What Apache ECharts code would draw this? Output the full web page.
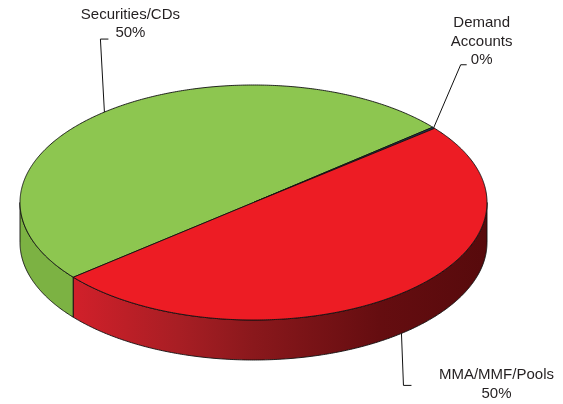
<!DOCTYPE html>
<html><head><meta charset="utf-8">
<script src="https://cdn.jsdelivr.net/npm/echarts/dist/echarts.min.js"></script>
<style>html,body{margin:0;padding:0;background:#fff}#c{width:563px;height:404px}</style>
</head><body><div id="c"></div>
<script>
// ---- data ----
const categories = ['Securities/CDs', 'Demand\nAccounts', 'MMA/MMF/Pools'];
const values = [49.9, 0.2, 49.9];

// ---- styles / geometry (not data) ----
const topColors = ['#8DC650', '#1F3A5F', '#ED1C24'];
const sideColors = [
  '#7CB243',
  '#162B47',
  null // gradient for red side
];
const CX = 253.5, CY = 202.5, RX = 233.5, RY = 117.5, DEPTH = 40, START = 140.5;
const redGradient = {
  type: 'linear', x: CX - RX, y: 0, x2: CX + RX, y2: 0, global: true,
  colorStops: [
    {offset: 0, color: '#DC2029'},
    {offset: 0.12, color: '#D0202A'},
    {offset: 0.34, color: '#A81E24'},
    {offset: 0.5, color: '#8A181C'},
    {offset: 0.77, color: '#650D10'},
    {offset: 1, color: '#570A0C'}
  ]
};
// label layout: offsets relative to the computed anchor
const labelLayout = [
  {onSide: false, elbow: [-4, -73], end: [4, -73], text: [26, -88]},
  {onSide: false, elbow: [27, -63], end: [33, -63], text: [48, -86]},
  {onSide: true, elbow: [2, 52], end: [10, 52], text: [95, 51]}
];

const total = values.reduce((a, b) => a + b, 0);
function spanOf(i) {
  let cum = 0;
  for (let k = 0; k < i; k++) cum += values[k];
  const a0 = START + cum / total * 360;
  const a1 = a0 + values[i] / total * 360;
  return [a0, a1];
}
function pt(t, dy) {
  const r = t * Math.PI / 180;
  return [CX + RX * Math.cos(r), CY + RY * Math.sin(r) + (dy || 0)];
}
function arc(a0, a1, dy) {
  const n = Math.max(2, Math.ceil(Math.abs(a1 - a0) / 0.5) + 1);
  const pts = [];
  for (let i = 0; i < n; i++) pts.push(pt(a0 + (a1 - a0) * i / (n - 1), dy));
  return pts;
}
const stroke = {stroke: '#111', lineWidth: 0.9, lineJoin: 'round'};

function renderSide(params, api) {
  const i = params.dataIndex;
  const [a0, a1] = spanOf(i);
  const children = [];
  [[0, 180], [360, 540]].forEach(([l, h]) => {
    const s = Math.max(a0, l), e = Math.min(a1, h);
    if (e > s) {
      const pts = arc(s, e, 0).concat(arc(e, s, DEPTH));
      children.push({type: 'polygon', shape: {points: pts},
        style: Object.assign({fill: sideColors[i] || redGradient}, stroke)});
    }
  });
  return {type: 'group', children};
}
function renderTop(params, api) {
  const i = params.dataIndex;
  const [a0, a1] = spanOf(i);
  const pts = [[CX, CY]].concat(arc(a0, a1, 0));
  return {type: 'polygon', shape: {points: pts},
    style: Object.assign({fill: topColors[i]}, stroke)};
}
function renderLabel(params, api) {
  const i = params.dataIndex;
  const [a0, a1] = spanOf(i);
  const L = labelLayout[i];
  const a = pt((a0 + a1) / 2, L.onSide ? DEPTH : 0);
  const pct = Math.round(api.value(1) / total * 100);
  return {type: 'group', children: [
    {type: 'polyline', shape: {points: [a, [a[0] + L.elbow[0], a[1] + L.elbow[1]], [a[0] + L.end[0], a[1] + L.end[1]]]},
      style: {stroke: '#111', lineWidth: 1, fill: null}},
    {type: 'text', x: a[0] + L.text[0], y: a[1] + L.text[1],
      style: {text: categories[i] + '\n' + pct + '%', fill: '#231F20', align: 'center', verticalAlign: 'middle',
        fontSize: 15, lineHeight: 18.5, fontFamily: '"Liberation Sans", Arial, sans-serif'}}
  ]};
}

const seriesData = values.map((v, i) => ({name: categories[i], value: [i, v]}));
const chart = echarts.init(document.getElementById('c'), null, {renderer: 'canvas'});
chart.setOption({
  animation: false,
  backgroundColor: '#fff',
  series: [
    {type: 'custom', coordinateSystem: 'none', z: 1, silent: true, data: seriesData, renderItem: renderSide},
    {type: 'custom', coordinateSystem: 'none', z: 2, silent: true, data: seriesData, renderItem: renderTop},
    {type: 'custom', coordinateSystem: 'none', z: 3, silent: true, data: seriesData, renderItem: renderLabel}
  ]
});
</script></body></html>
